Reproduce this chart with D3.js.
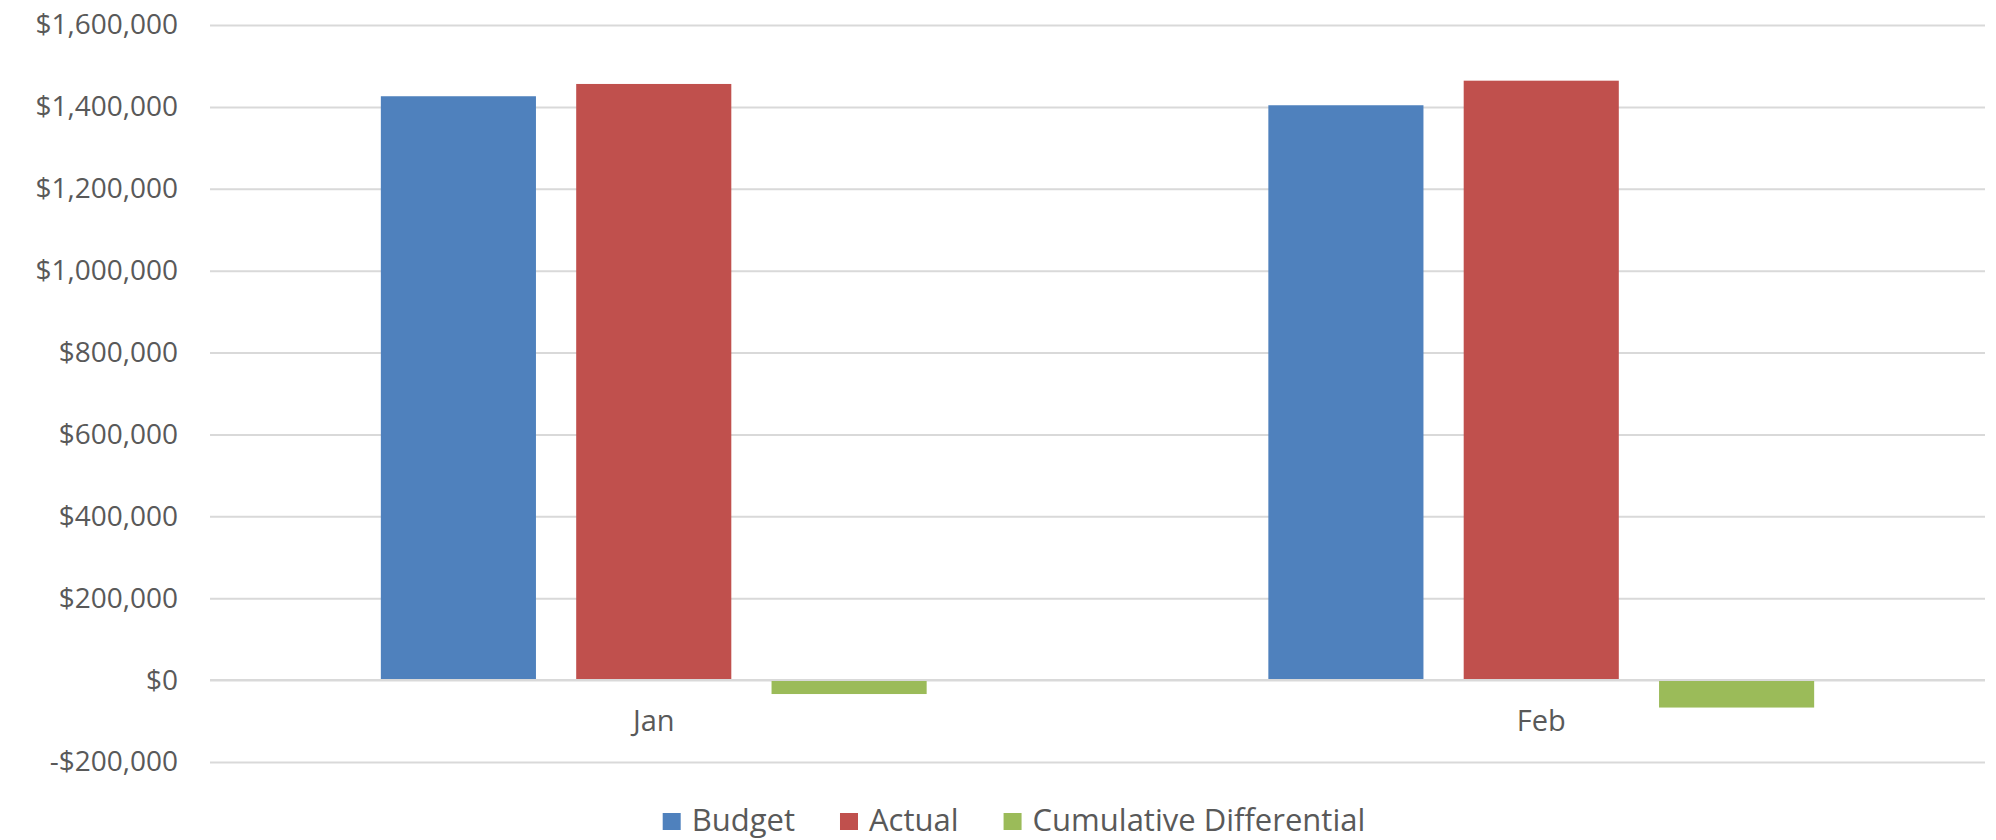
<!DOCTYPE html>
<html>
<head>
<meta charset="utf-8">
<script src="https://cdn.jsdelivr.net/npm/d3@7"></script>
<style>
  html, body { margin: 0; padding: 0; background: #ffffff; }
  svg { display: block; }
  text { font-family: "Open Sans", "Noto Sans", sans-serif; fill: #595959; }
</style>
</head>
<body>
<svg id="chart" width="1996" height="840"></svg>
<script>
// Months on the category axis
const categories = ["Jan", "Feb"];
// Series names, in drawing order
const seriesNames = ["Budget", "Actual", "Cumulative Differential"];
const seriesColors = ["#4F81BD", "#C0504D", "#9BBB59"];
// Values per series, one per month
const budget = [1426000, 1404000];
const actual = [1456000, 1464000];
const cumulativeDiff = [-34000, -67000];
// Value axis ticks
const yTicks = [-200000, 0, 200000, 400000, 600000, 800000, 1000000, 1200000, 1400000, 1600000];

const seriesValues = [budget, actual, cumulativeDiff];

const svg = d3.select("#chart");
const plot = { left: 210, right: 1985, top: 25, bottom: 762 };

const y = d3.scaleLinear()
  .domain([-200000, 1600000])
  .range([plot.bottom, plot.top]);

const x0 = d3.scaleBand()
  .domain(categories)
  .range([plot.left, plot.right])
  .paddingInner(0)
  .paddingOuter(0);

const groupPad = x0.bandwidth() * 0.1925;
const x1 = d3.scaleBand()
  .domain(seriesNames)
  .range([groupPad, x0.bandwidth() - groupPad])
  .paddingInner(0.206)
  .paddingOuter(0);

const fmt = v => (v < 0 ? "-$" : "$") + d3.format(",")(Math.abs(v));

// Horizontal gridlines and value labels
const yAxis = d3.axisLeft(y)
  .tickValues(yTicks)
  .tickSize(-(plot.right - plot.left))
  .tickPadding(32)
  .tickFormat(fmt);

const gy = svg.append("g")
  .attr("transform", `translate(${plot.left},0)`)
  .call(yAxis);
gy.select(".domain").remove();
gy.selectAll(".tick line")
  .attr("stroke", "#D9D9D9")
  .attr("stroke-width", 2);
gy.selectAll(".tick text")
  .attr("fill", "#595959")
  .style("font-size", "28px");

// Bars
const rows = categories.map((c, i) => ({
  cat: c,
  vals: seriesNames.map((s, j) => ({ series: s, color: seriesColors[j], value: seriesValues[j][i] }))
}));

const groups = svg.append("g").selectAll("g")
  .data(rows)
  .join("g")
  .attr("transform", d => `translate(${x0(d.cat)},0)`);

groups.selectAll("rect")
  .data(d => d.vals)
  .join("rect")
  .attr("x", d => x1(d.series))
  .attr("width", x1.bandwidth())
  .attr("y", d => y(Math.max(0, d.value)))
  .attr("height", d => Math.abs(y(d.value) - y(0)))
  .attr("fill", d => d.color);

// Category axis line at zero, drawn over the bars
svg.append("line")
  .attr("x1", plot.left).attr("x2", plot.right)
  .attr("y1", y(0)).attr("y2", y(0))
  .attr("stroke", "#D9D9D9")
  .attr("stroke-width", 2);

// Category labels
svg.append("g").selectAll("text")
  .data(categories)
  .join("text")
  .attr("x", d => x0(d) + x0.bandwidth() / 2)
  .attr("y", 731)
  .attr("text-anchor", "middle")
  .style("font-size", "29px")
  .text(d => d);

// Legend
const legend = svg.append("g");
const items = legend.selectAll("g")
  .data(seriesNames)
  .join("g");
items.append("rect")
  .attr("width", 18).attr("height", 17)
  .attr("y", 813)
  .attr("fill", (d, i) => seriesColors[i]);
items.append("text")
  .attr("x", 29)
  .attr("y", 831)
  .style("font-size", "31px")
  .text(d => d);

let cursor = 0;
const offsets = [];
items.each(function () {
  offsets.push(cursor);
  const w = d3.select(this).select("text").node().getComputedTextLength();
  cursor += 29 + w + 45;
});
const legendWidth = cursor - 45;
const legendStart = 1014 - legendWidth / 2;
items.attr("transform", (d, i) => `translate(${legendStart + offsets[i]},0)`);
</script>
</body>
</html>
